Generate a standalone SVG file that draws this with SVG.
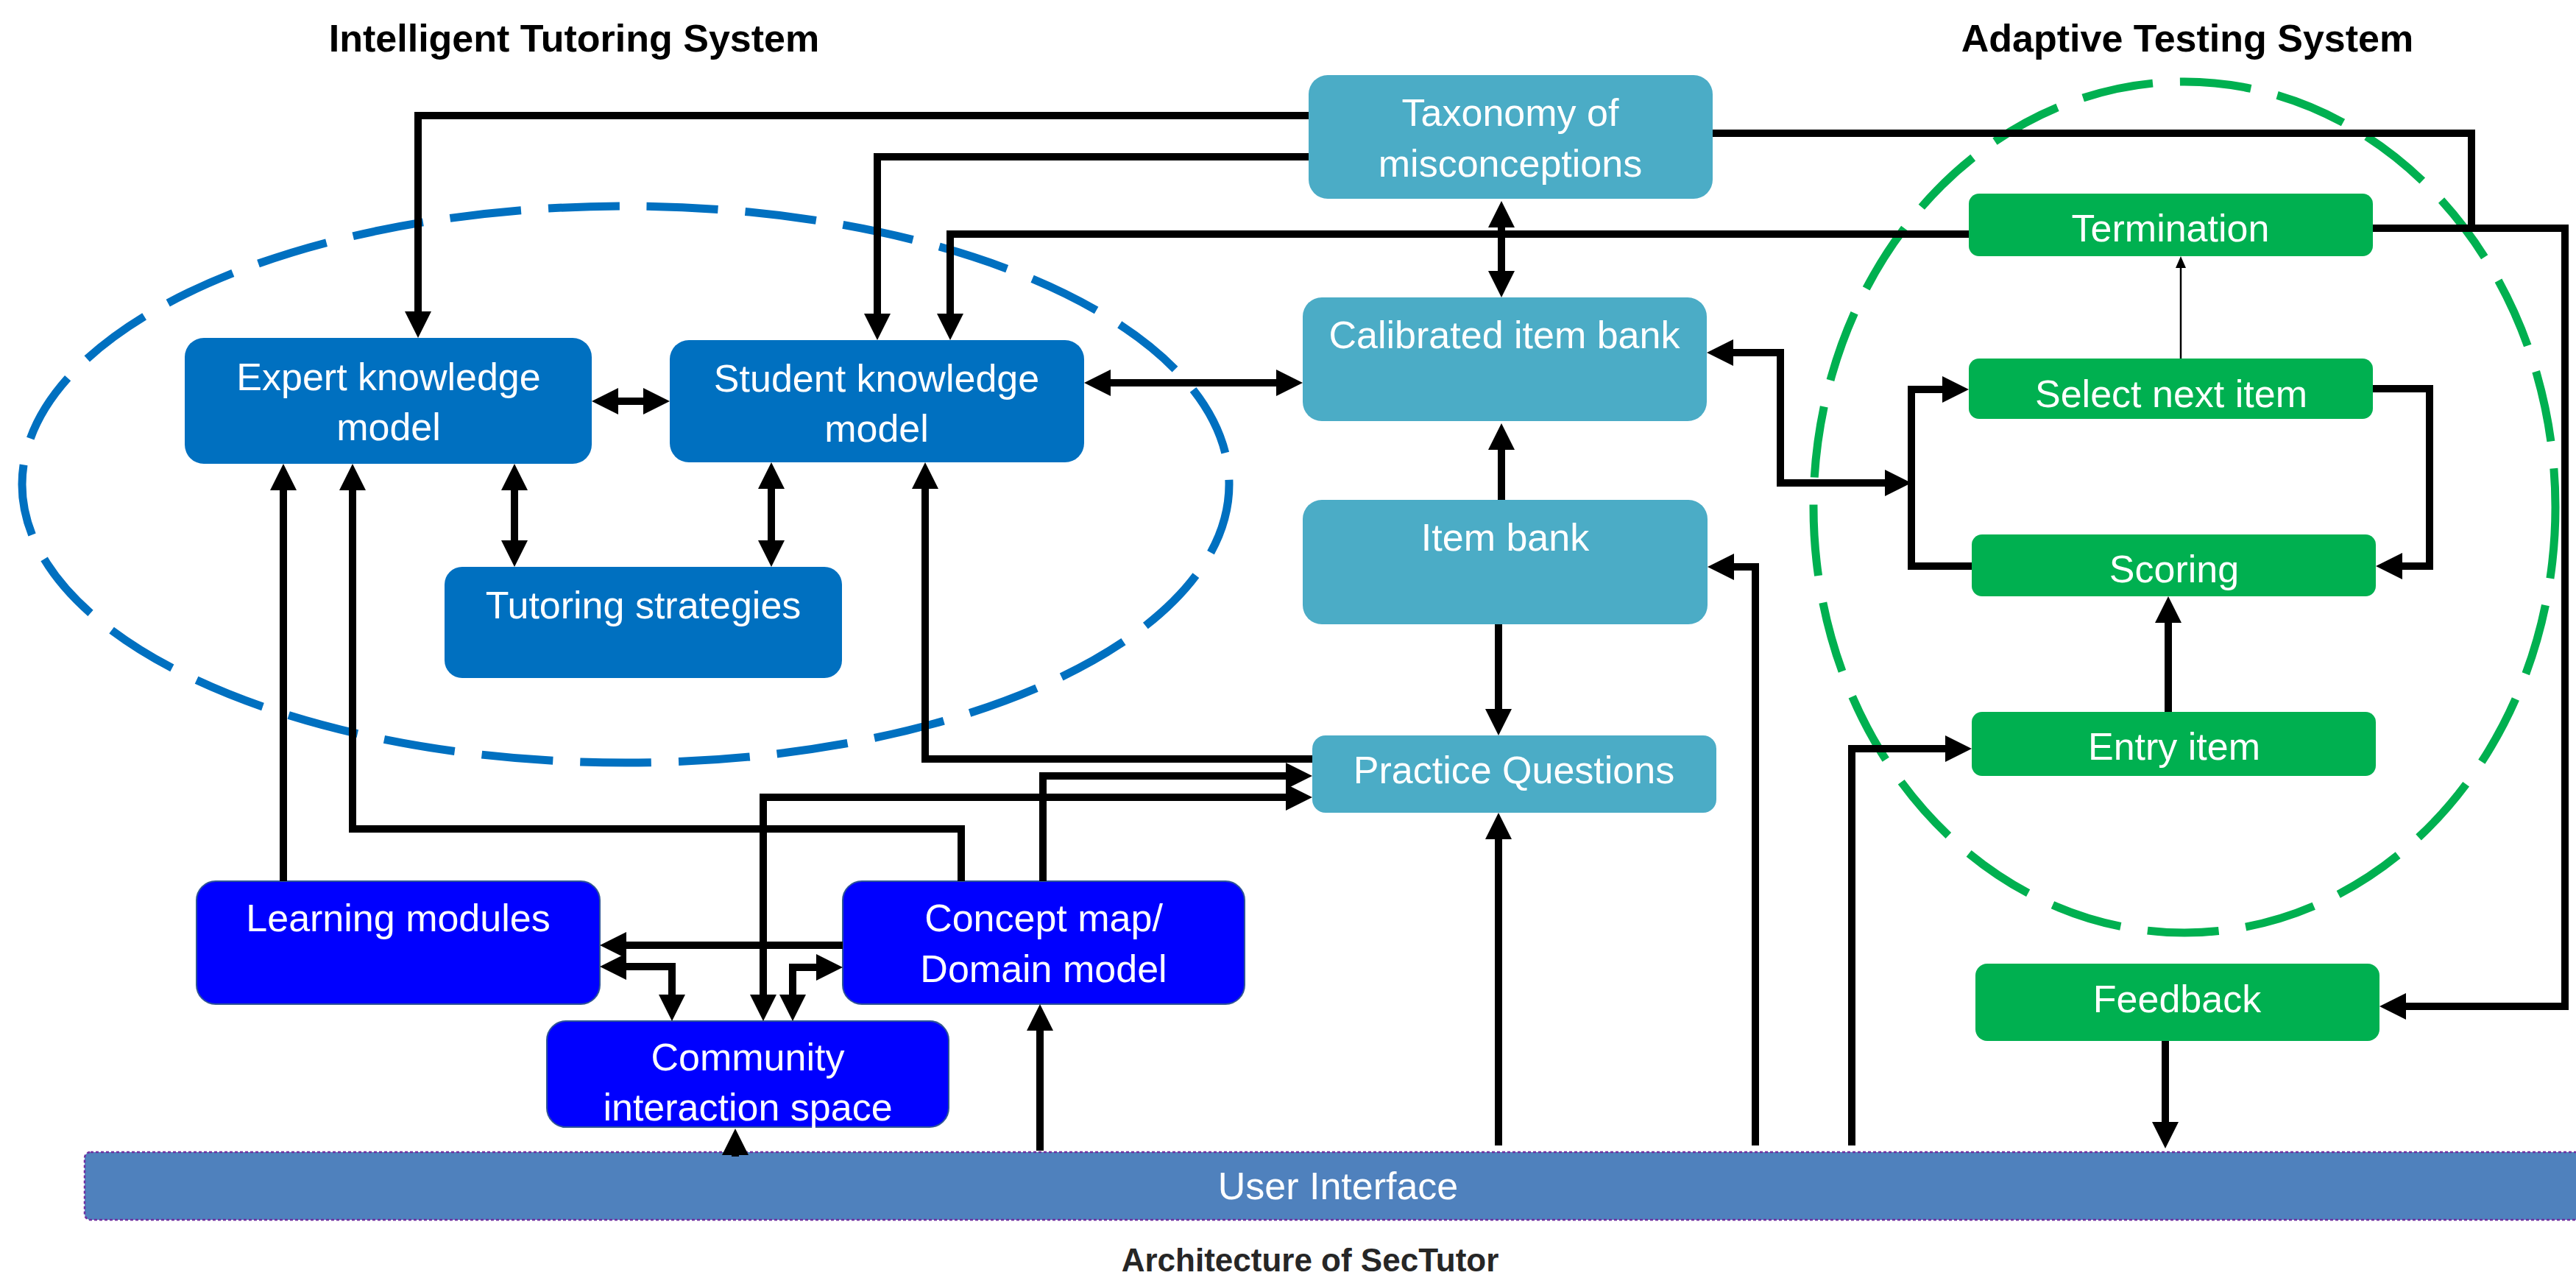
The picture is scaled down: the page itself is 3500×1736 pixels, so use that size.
<svg xmlns="http://www.w3.org/2000/svg" width="3500" height="1736" viewBox="0 0 3500 1736">
<style>
.t{font-family:"Liberation Sans",Arial,sans-serif;font-size:52px;fill:#fff;text-anchor:middle}
.title{font-family:"Liberation Sans",Arial,sans-serif;font-size:52px;font-weight:bold;fill:#000;text-anchor:middle}
.its{fill:#0070C0}
.lm{fill:#0000FF;stroke:#2F5597;stroke-width:2}
.ib{fill:#4BACC6}
.ats{fill:#00B050}
.c{fill:none;stroke:#000;stroke-width:10;stroke-linejoin:miter}
.ell{fill:none;stroke-width:11;stroke-dasharray:97 37}
</style>
<defs>
<marker id="ah" viewBox="0 -18 36 36" refX="0" refY="0" markerWidth="36" markerHeight="36" markerUnits="userSpaceOnUse" orient="auto-start-reverse"><path d="M0,-18 L36,0 L0,18 z" fill="#000"/></marker>
<marker id="ahs" viewBox="0 -7 16 14" refX="0" refY="0" markerWidth="16" markerHeight="14" markerUnits="userSpaceOnUse" orient="auto"><path d="M0,-7 L16,0 L0,7 z" fill="#000"/></marker>
</defs>
<rect width="3500" height="1736" fill="#fff"/>

<text class="title" x="780" y="70">Intelligent Tutoring System</text>
<text class="title" x="2972" y="70">Adaptive Testing System</text>

<ellipse class="ell" cx="850" cy="658" rx="820" ry="378" stroke="#0070C0"/>
<ellipse class="ell" cx="2968" cy="689" rx="504" ry="578" stroke="#00B050"/>

<g id="ui">
<rect x="115" y="1565" width="3400" height="92" rx="8" fill="#4F81BD" stroke="#7030A0" stroke-width="2.5" stroke-dasharray="4 3"/>
<text class="t" x="1818" y="1629">User Interface</text>
</g>

<g id="expert"><rect class="its" x="251" y="459" width="553" height="171" rx="26"/>
<text class="t" x="528" y="530">Expert knowledge</text><text class="t" x="528" y="598">model</text></g>
<g id="student"><rect class="its" x="910" y="462" width="563" height="166" rx="26"/>
<text class="t" x="1191" y="532">Student knowledge</text><text class="t" x="1191" y="600">model</text></g>
<g id="tutoring"><rect class="its" x="604" y="770" width="540" height="151" rx="24"/>
<text class="t" x="874" y="840">Tutoring strategies</text></g>

<g id="learning"><rect class="lm" x="267" y="1197" width="548" height="167" rx="26"/>
<text class="t" x="541" y="1265">Learning modules</text></g>
<g id="concept"><rect class="lm" x="1145" y="1197" width="546" height="167" rx="26"/>
<text class="t" x="1418" y="1265">Concept map/</text><text class="t" x="1418" y="1334">Domain model</text></g>
<g id="community"><rect class="lm" x="743" y="1387" width="546" height="144" rx="26"/>
<text class="t" x="1016" y="1454">Community</text><text class="t" x="1016" y="1522">interaction space</text></g>

<g id="taxonomy"><rect class="ib" x="1778" y="102" width="549" height="168" rx="26"/>
<text class="t" x="2052" y="171">Taxonomy of</text><text class="t" x="2052" y="240">misconceptions</text></g>
<g id="calibrated"><rect class="ib" x="1770" y="404" width="549" height="168" rx="26"/>
<text class="t" x="2044" y="473">Calibrated item bank</text></g>
<g id="itembank"><rect class="ib" x="1770" y="679" width="550" height="169" rx="26"/>
<text class="t" x="2045" y="748">Item bank</text></g>
<g id="practice"><rect class="ib" x="1783" y="999" width="549" height="105" rx="18"/>
<text class="t" x="2057" y="1064">Practice Questions</text></g>

<g id="termination"><rect class="ats" x="2675" y="263" width="549" height="85" rx="14"/>
<text class="t" x="2949" y="328">Termination</text></g>
<g id="select"><rect class="ats" x="2675" y="487" width="549" height="82" rx="14"/>
<text class="t" x="2950" y="553">Select next item</text></g>
<g id="scoring"><rect class="ats" x="2679" y="726" width="549" height="84" rx="14"/>
<text class="t" x="2954" y="791">Scoring</text></g>
<g id="entry"><rect class="ats" x="2679" y="967" width="549" height="87" rx="14"/>
<text class="t" x="2954" y="1032">Entry item</text></g>
<g id="feedback"><rect class="ats" x="2684" y="1309" width="549" height="105" rx="16"/>
<text class="t" x="2958" y="1375">Feedback</text></g>

<g id="connectors">
<path class="c" d="M1778,157 H568 V423" marker-end="url(#ah)"/>
<path class="c" d="M1778,213 H1192 V426" marker-end="url(#ah)"/>
<path class="c" d="M2675,318 H1291 V426" marker-end="url(#ah)"/>
<path class="c" d="M2040,309 V368" marker-start="url(#ah)" marker-end="url(#ah)"/>
<path class="c" d="M840,545 H874" marker-start="url(#ah)" marker-end="url(#ah)"/>
<path class="c" d="M1509,520 H1734" marker-start="url(#ah)" marker-end="url(#ah)"/>
<path class="c" d="M2040,679 V611" marker-end="url(#ah)"/>
<path class="c" d="M2036,848 V963" marker-end="url(#ah)"/>
<path class="c" d="M2036,1556 V1140" marker-end="url(#ah)"/>
<path class="c" d="M2385,1556 V770 H2356" marker-end="url(#ah)"/>
<path class="c" d="M2516,1556 V1017 H2643" marker-end="url(#ah)"/>
<path class="c" d="M2946,967 V846" marker-end="url(#ah)"/>
<path d="M2963,487 V364" fill="none" stroke="#000" stroke-width="2.5" marker-end="url(#ahs)"/>
<path class="c" d="M3224,528 H3301 V769 H3264" marker-end="url(#ah)"/>
<path class="c" d="M2679,769 H2597 V529 H2639" marker-end="url(#ah)"/>
<path class="c" d="M2561,656 H2419 V479 H2355" marker-start="url(#ah)" marker-end="url(#ah)"/>
<path class="c" d="M2327,181 H3358 V310"/>
<path class="c" d="M3224,310 H3485 V1367 H3269" marker-end="url(#ah)"/>
<path class="c" d="M2942,1414 V1524" marker-end="url(#ah)"/>
<path class="c" d="M385,1197 V666" marker-end="url(#ah)"/>
<path class="c" d="M1306,1197 V1126 H479 V666" marker-end="url(#ah)"/>
<path class="c" d="M699,666 V734" marker-start="url(#ah)" marker-end="url(#ah)"/>
<path class="c" d="M1048,664 V734" marker-start="url(#ah)" marker-end="url(#ah)"/>
<path class="c" d="M1783,1031 H1257 V664" marker-end="url(#ah)"/>
<path class="c" d="M1417,1197 V1054 H1747" marker-end="url(#ah)"/>
<path class="c" d="M1747,1083 H1037 V1351" marker-start="url(#ah)" marker-end="url(#ah)"/>
<path class="c" d="M1145,1284 H851" stroke-width="12" marker-end="url(#ah)"/>
<path class="c" d="M851,1313 H913 V1351" marker-start="url(#ah)" marker-end="url(#ah)"/>
<path class="c" d="M1109,1314 H1077 V1351" marker-start="url(#ah)" marker-end="url(#ah)"/>
<path class="c" d="M999,1571 V1569" marker-end="url(#ah)"/>
<path class="c" d="M1413,1563 V1400" marker-end="url(#ah)"/>
</g>

<text x="1780" y="1727" font-family="Liberation Sans, Arial, sans-serif" font-size="44" font-weight="bold" fill="#262626" text-anchor="middle">Architecture of SecTutor</text>
</svg>
